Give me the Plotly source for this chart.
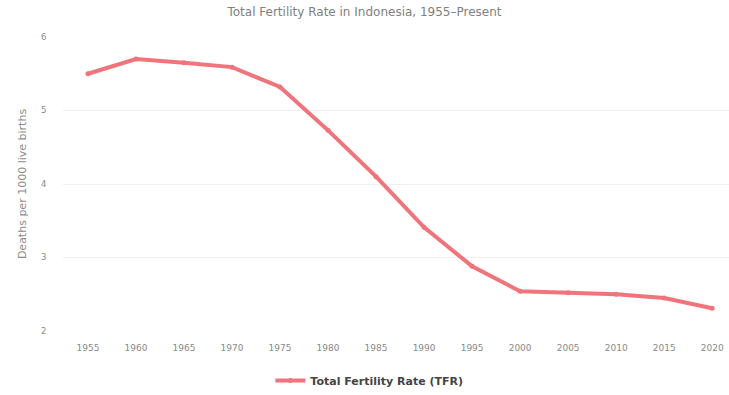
import plotly.graph_objects as go

years = ["1955", "1960", "1965", "1970", "1975", "1980", "1985",
         "1990", "1995", "2000", "2005", "2010", "2015", "2020"]
tfr = [5.50, 5.70, 5.65, 5.59, 5.32, 4.73, 4.10,
       3.41, 2.88, 2.54, 2.52, 2.50, 2.45, 2.31]
y_ticks = [2, 3, 4, 5, 6]

line_color = "#f0747c"
text_color = "#8a8a8a"
font_family = "DejaVu Sans, sans-serif"

fig = go.Figure()
fig.add_trace(go.Scatter(
    x=years,
    y=tfr,
    mode="lines+markers",
    name="Total Fertility Rate (TFR)",
    line=dict(color=line_color, width=4),
    marker=dict(color=line_color, size=5),
))

fig.update_layout(
    width=729,
    height=395,
    margin=dict(l=63, r=0, t=37, b=63),
    paper_bgcolor="white",
    plot_bgcolor="white",
    font=dict(family=font_family, color=text_color, size=9),
    title=dict(
        text="Total Fertility Rate in Indonesia, 1955–Present",
        x=0.5, xanchor="center",
        y=1 - 12 / 395, yanchor="middle",
        font=dict(size=12, color="#808080", family=font_family),
    ),
    showlegend=True,
    legend=dict(
        orientation="h",
        x=0.46, xanchor="center",
        y=-0.17, yanchor="middle",
        font=dict(size=11, color="#444444", family=font_family, weight="bold"),
        itemwidth=30,
    ),
    xaxis=dict(
        type="category",
        range=[-0.52, 13.35],
        showgrid=False,
        zeroline=False,
        showline=False,
        ticks="outside",
        ticklen=8,
        tickcolor="rgba(0,0,0,0)",
        tickfont=dict(size=9, color=text_color, family=font_family),
    ),
    yaxis=dict(
        range=[2, 6],
        tickvals=y_ticks,
        showgrid=True,
        gridcolor="#f0f0f0",
        gridwidth=1,
        zeroline=False,
        showline=False,
        ticks="outside",
        ticklen=14,
        tickcolor="rgba(0,0,0,0)",
        tickfont=dict(size=8.5, color=text_color, family=font_family),
        title=dict(text="Deaths per 1000 live births",
                   font=dict(size=11, color=text_color, family=font_family),
                   standoff=12),
    ),
)

fig.write_html("out.html")
